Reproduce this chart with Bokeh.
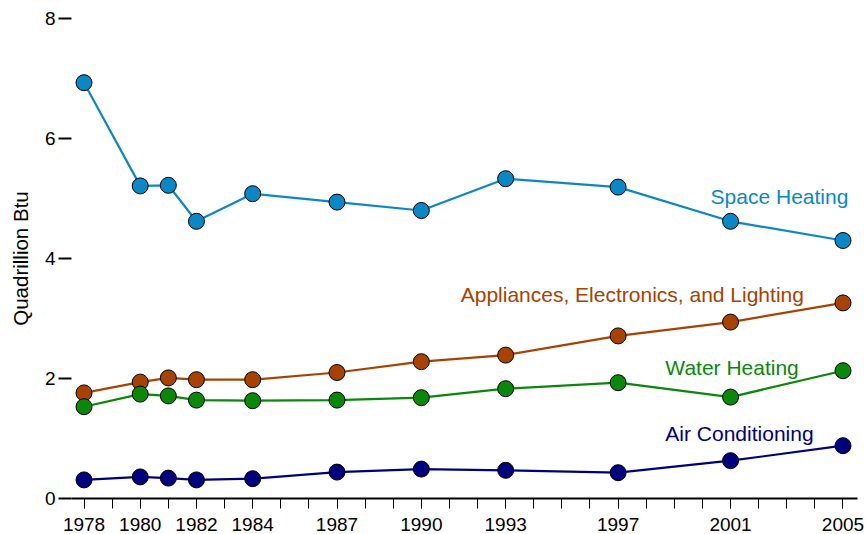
from bokeh.plotting import figure
from bokeh.models import FixedTicker, Label, Range1d
from bokeh.embed import file_html
from bokeh.resources import INLINE

years = [1978, 1980, 1981, 1982, 1984, 1987, 1990, 1993, 1997, 2001, 2005]
tick_years = [1978, 1980, 1982, 1984, 1987, 1990, 1993, 1997, 2001, 2005]
space_heating = [6.93, 5.21, 5.22, 4.62, 5.08, 4.94, 4.80, 5.33, 5.19, 4.62, 4.30]
appliances = [1.76, 1.94, 2.01, 1.98, 1.98, 2.10, 2.28, 2.39, 2.71, 2.94, 3.26]
water_heating = [1.53, 1.74, 1.71, 1.64, 1.63, 1.64, 1.68, 1.83, 1.93, 1.69, 2.13]
air_conditioning = [0.31, 0.36, 0.34, 0.31, 0.33, 0.44, 0.49, 0.47, 0.43, 0.63, 0.88]
series_names = ["Space Heating", "Appliances, Electronics, and Lighting",
                "Water Heating", "Air Conditioning"]
y_label = "Quadrillion Btu"

colors = ["#0a88c6", "#a84200", "#0a880a", "#00007f"]
series = [space_heating, appliances, water_heating, air_conditioning]

FONT = "Liberation Sans"

p = figure(frame_width=786, frame_height=480, output_backend="svg",
           toolbar_location=None,
           x_range=Range1d(1977.555, 2005.516), y_range=Range1d(0, 8),
           min_border_left=71, min_border_top=18, min_border_right=10,
           min_border_bottom=36)
p.outline_line_color = None
p.grid.visible = False
p.background_fill_color = "white"

for vals, col in zip(series, colors):
    p.line(years, vals, line_color=col, line_width=2.2)
    p.scatter(years, vals, size=16, fill_color=col, line_color="black",
              line_width=1)

# x axis
xa = p.xaxis[0]
xa.ticker = FixedTicker(ticks=tick_years, minor_ticks=list(range(1978, 2006)))
xa.axis_line_width = 2
xa.axis_line_color = "black"
xa.major_tick_in = 0
xa.major_tick_out = 10
xa.minor_tick_in = 0
xa.minor_tick_out = 10
xa.major_tick_line_color = "black"
xa.minor_tick_line_color = "black"
xa.major_tick_line_width = 1
xa.minor_tick_line_width = 1
xa.major_label_text_font = FONT
xa.major_label_text_font_size = "19px"
xa.major_label_text_color = "black"
xa.major_label_standoff = 9

# y axis
ya = p.yaxis[0]
ya.ticker = FixedTicker(ticks=[0, 2, 4, 6, 8])
ya.axis_line_color = None
ya.major_tick_in = 0
ya.major_tick_out = 13
ya.major_tick_line_width = 2
ya.major_tick_line_color = "black"
ya.minor_tick_line_color = None
ya.major_label_text_font = FONT
ya.major_label_text_font_size = "19px"
ya.major_label_text_color = "black"
ya.major_label_standoff = 3
ya.axis_label = y_label
ya.axis_label_text_font = FONT
ya.axis_label_text_font_size = "20.5px"
ya.axis_label_text_font_style = "normal"
ya.axis_label_text_color = "black"
ya.axis_label_standoff = 10

# series labels (anchor positions in data space)
label_pos = [(2000.29, 5.03), (1991.40, 3.40), (1998.68, 2.19), (1998.68, 1.08)]
for name, col, (lx, ly) in zip(series_names, colors, label_pos):
    p.add_layout(Label(x=lx, y=ly, text=name, text_color=col,
                       text_font=FONT, text_font_size="21px",
                       text_align="left", text_baseline="alphabetic"))

open("out.html", "w").write(file_html(p, INLINE))
